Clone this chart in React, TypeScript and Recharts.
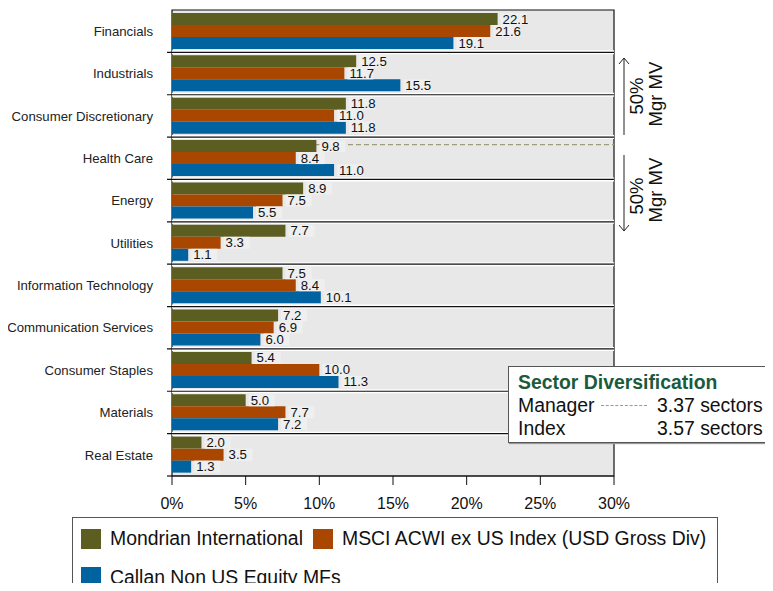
import React from "react";
import { BarChart, Bar, XAxis, YAxis, CartesianGrid, ReferenceLine, ReferenceArea, LabelList } from "recharts";

const CATEGORIES = [
  "Financials", "Industrials", "Consumer Discretionary", "Health Care", "Energy", "Utilities",
  "Information Technology", "Communication Services", "Consumer Staples", "Materials", "Real Estate",
];
const MONDRIAN = [22.1, 12.5, 11.8, 9.8, 8.9, 7.7, 7.5, 7.2, 5.4, 5.0, 2.0];
const MSCI = [21.6, 11.7, 11.0, 8.4, 7.5, 3.3, 8.4, 6.9, 10.0, 7.7, 3.5];
const CALLAN = [19.1, 15.5, 11.8, 11.0, 5.5, 1.1, 10.1, 6.0, 11.3, 7.2, 1.3];
const X_TICKS = [0, 5, 10, 15, 20, 25, 30];
// manager split line sits a little below the top of this sector's band
const MANAGER_SECTOR = "Health Care";
const MANAGER_FRACTION = 0.18;

const OLIVE = "#5c5d20";
const ORANGE = "#a94700";
const BLUE = "#00629e";
const FONT = "'Liberation Sans', Arial, sans-serif";

const TOP = 10;
const BOTTOM = 476;
const BAND = (BOTTOM - TOP) / CATEGORIES.length;

const data = CATEGORIES.map((name, i) => ({ name, mondrian: MONDRIAN[i], msci: MSCI[i], callan: CALLAN[i] }));

const ValueLabel = (props: any) => {
  const { x, y, width, height, value } = props;
  const tx = x + width + 5;
  const ty = y + height / 2;
  return (
    <g>
      <rect x={tx - 2} y={ty - 6} width={26} height={12} fill="#efefef" />
      <text x={tx} y={ty} dy={4.5} fontSize={13.2} fontFamily={FONT} fill="#111">{value.toFixed(1)}</text>
    </g>
  );
};

const Separator = (p: any) => {
  const { x1, x2, y1, inner } = p;
  return (
    <g>
      {inner && <line x1={x1} x2={x2} y1={y1} y2={y1} stroke="#fff" strokeWidth={4} />}
      <line x1={x1 - 5} x2={inner ? x2 : x1} y1={y1} y2={y1} stroke="#111" strokeWidth={1.2} />
    </g>
  );
};

const ManagerLine = (p: any) => {
  const { x1, x2, y1 } = p;
  const y = y1 + MANAGER_FRACTION * BAND;
  return <line x1={x1} x2={x2} y1={y} y2={y} stroke="#9c9c78" strokeWidth={1.2} strokeDasharray="5 3" />;
};

export default function App() {
  return (
    <div style={{ position: "relative", width: 773, height: 591, margin: -8, fontFamily: FONT, background: "#fff", overflow: "hidden" }}>
      <BarChart layout="vertical" width={773} height={591} data={data}
        margin={{ top: TOP, right: 159, left: 0, bottom: 591 - BOTTOM - 30 }} barGap={0} barSize={12}>
        <CartesianGrid fill="#e8e8e8" horizontal={false} vertical={false} />
        <XAxis type="number" domain={[0, 30]} ticks={X_TICKS} tickFormatter={(v) => `${v}%`} height={30}
          tick={{ fill: "#111", fontSize: 16, fontFamily: FONT }} tickSize={9} tickMargin={13}
          axisLine={{ stroke: "#111" }} tickLine={{ stroke: "#111" }} interval={0} />
        <YAxis type="category" dataKey="name" width={172} tickSize={0} tickMargin={19} axisLine={false} tickLine={false}
          tick={{ fill: "#222", fontSize: 13.2, fontFamily: FONT }} interval={0} />
        {CATEGORIES.map((c, i) => (
          <ReferenceLine key={c} y={c} position="start" shape={(p: any) => <Separator {...p} inner={i > 0} />} />
        ))}
        <ReferenceLine y={CATEGORIES[CATEGORIES.length - 1]} position="end" shape={(p: any) => <Separator {...p} inner={false} />} />
        <ReferenceLine y={MANAGER_SECTOR} position="start" zIndex={150} shape={(p: any) => <ManagerLine {...p} />} />
        <ReferenceArea x1={0} x2={30} fill="none" stroke="#111" strokeWidth={1.2} />
        <Bar dataKey="mondrian" fill={OLIVE} isAnimationActive={false}>
          <LabelList dataKey="mondrian" content={<ValueLabel />} />
        </Bar>
        <Bar dataKey="msci" fill={ORANGE} isAnimationActive={false}>
          <LabelList dataKey="msci" content={<ValueLabel />} />
        </Bar>
        <Bar dataKey="callan" fill={BLUE} isAnimationActive={false}>
          <LabelList dataKey="callan" content={<ValueLabel />} />
        </Bar>
      </BarChart>

      <svg width={773} height={591} style={{ position: "absolute", left: 0, top: 0, pointerEvents: "none" }}>
        <g stroke="#222" strokeWidth={1} fill="none">
          <line x1={624} y1={58} x2={624} y2={135} />
          <polyline points="619,64 624,58 629,64" />
          <line x1={624} y1={155} x2={624} y2={231} />
          <polyline points="619,225 624,231 629,225" />
        </g>
        <g fontFamily={FONT} fontSize={18.5} fill="#111" textAnchor="middle">
          <text transform="translate(643,96) rotate(-90)">50%</text>
          <text transform="translate(662,94) rotate(-90)">Mgr MV</text>
          <text transform="translate(643,196) rotate(-90)">50%</text>
          <text transform="translate(662,190) rotate(-90)">Mgr MV</text>
        </g>
      </svg>

      <div style={{ position: "absolute", left: 508, top: 366, width: 263, height: 77, background: "#fff",
        border: "1px solid #555", boxShadow: "1px 1px 1px #999", boxSizing: "border-box", fontSize: 19.4, color: "#111", lineHeight: "22px" }}>
        <div style={{ position: "absolute", left: 9, top: 4, fontWeight: "bold", color: "#1b5a3c" }}>Sector Diversification</div>
        <div style={{ position: "absolute", left: 9, top: 27 }}>Manager</div>
        <div style={{ position: "absolute", left: 92, top: 38, width: 46, borderTop: "1.2px dashed #9c9c78" }} />
        <div style={{ position: "absolute", left: 148, top: 27 }}>3.37 sectors</div>
        <div style={{ position: "absolute", left: 9, top: 50 }}>Index</div>
        <div style={{ position: "absolute", left: 148, top: 50 }}>3.57 sectors</div>
      </div>

      <div style={{ position: "absolute", left: 72, top: 517, width: 646, height: 90, border: "1px solid #555",
        boxSizing: "border-box", fontSize: 19.4, color: "#111", lineHeight: "22px" }}>
        <div style={{ position: "absolute", left: 8, top: 11, width: 20, height: 20, background: OLIVE }} />
        <div style={{ position: "absolute", left: 37, top: 9 }}>Mondrian International</div>
        <div style={{ position: "absolute", left: 240, top: 11, width: 20, height: 20, background: ORANGE }} />
        <div style={{ position: "absolute", left: 269, top: 9 }}>MSCI ACWI ex US Index (USD Gross Div)</div>
        <div style={{ position: "absolute", left: 8, top: 49, width: 20, height: 20, background: BLUE }} />
        <div style={{ position: "absolute", left: 37, top: 48 }}>Callan Non US Equity MFs</div>
      </div>
    </div>
  );
}
